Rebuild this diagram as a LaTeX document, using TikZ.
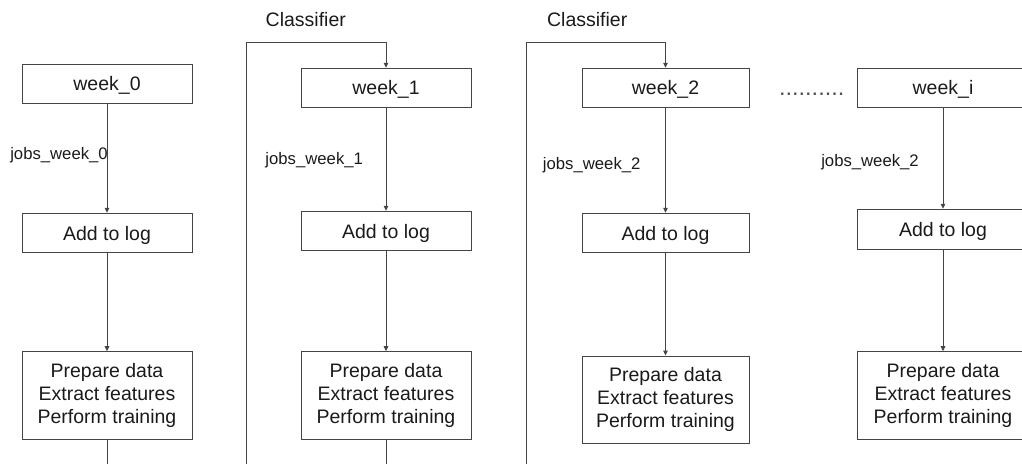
\documentclass[tikz,border=0pt]{standalone}
\usepackage{fontspec}
\setmainfont{Liberation Sans}
\usetikzlibrary{arrows.meta}
\definecolor{linec}{HTML}{444444}
\definecolor{textc}{HTML}{1A1A1A}
\begin{document}
\begin{tikzpicture}[x=1pt,y=-1pt,
  box/.style={draw=linec, line width=1pt, inner sep=0pt, text=textc,
    font=\fontsize{19.5}{23}\selectfont, align=center},
  one/.style={box, text height=16.8pt, text depth=2.7pt},
  lbl/.style={text=textc, inner sep=0pt, font=\fontsize{16.7}{20}\selectfont},
  ttl/.style={text=textc, inner sep=0pt, font=\fontsize{19.5}{23}\selectfont},
  conn/.style={draw=linec, line width=1pt},
  arr/.style={conn, -{Triangle[length=5pt,width=4.5pt]}}]
\useasboundingbox (0,0) rectangle (1022,463);
\clip (0,0) rectangle (1022,463);

% column 0
\node[one, minimum width=170pt, minimum height=39pt] (w0) at (107,83.8) {week\_0};
\node[one, minimum width=170pt, minimum height=39.4pt] (a0) at (107,233) {Add to log};
\node[box, minimum width=170pt, minimum height=87.6pt] (p0) at (107,395.5) {Prepare data\\Extract features\\Perform training};
\node[lbl] (j0) at (59,155.5) {jobs\_week\_0};

% column 1
\node[one, minimum width=170pt, minimum height=39pt] (w1) at (386,87.8) {week\_1};
\node[one, minimum width=170pt, minimum height=39.4pt] (a1) at (386,231) {Add to log};
\node[box, minimum width=170pt, minimum height=87.6pt] (p1) at (386,395.5) {Prepare data\\Extract features\\Perform training};
\node[lbl] (j1) at (314.2,160) {jobs\_week\_1};
\node[ttl] (c1) at (305.8,19.3) {Classifier};

% column 2
\node[one, minimum width=167pt, minimum height=39pt] (w2) at (665.5,87.8) {week\_2};
\node[one, minimum width=167pt, minimum height=39.4pt] (a2) at (665.5,233) {Add to log};
\node[box, minimum width=167pt, minimum height=87.3pt] (p2) at (665.5,399.7) {Prepare data\\Extract features\\Perform training};
\node[lbl] (j2) at (591.7,165.5) {jobs\_week\_2};
\node[ttl] (c2) at (587.2,19.3) {Classifier};

% dots
\node[ttl, text=textc!75, font=\fontsize{23.5}{23}\selectfont, anchor=base] (dots) at (811.7,95.8) {..........};

% column i
\node[one, minimum width=171.4pt, minimum height=39pt] (wi) at (943,87.8) {week\_i};
\node[one, minimum width=171.4pt, minimum height=40pt] (ai) at (943,229.3) {Add to log};
\node[box, minimum width=171.4pt, minimum height=87.6pt] (pi) at (943,395.5) {Prepare data\\Extract features\\Perform training};
\node[lbl] (ji) at (870,162) {jobs\_week\_2};

% connectors
\draw[arr] (w0) -- (a0);
\draw[arr] (a0) -- (p0);
\draw[arr] (w1) -- (a1);
\draw[arr] (a1) -- (p1);
\draw[arr] (w2) -- (a2);
\draw[arr] (a2) -- (p2);
\draw[arr] (wi) -- (ai);
\draw[arr] (ai) -- (pi);

\coordinate (b0) at (107,466);
\coordinate (b1) at (386,466);
\draw[conn] (p0) -- (b0);
\draw[conn] (p1) -- (b1);

\coordinate (l1b) at (246.7,466);
\coordinate (l1t) at (246.7,42);
\coordinate (l2b) at (526.3,466);
\coordinate (l2t) at (526.3,42);
\draw[arr] (l1b) -- (l1t) -| (w1.north);
\draw[arr] (l2b) -- (l2t) -| (w2.north);
\end{tikzpicture}
\end{document}
